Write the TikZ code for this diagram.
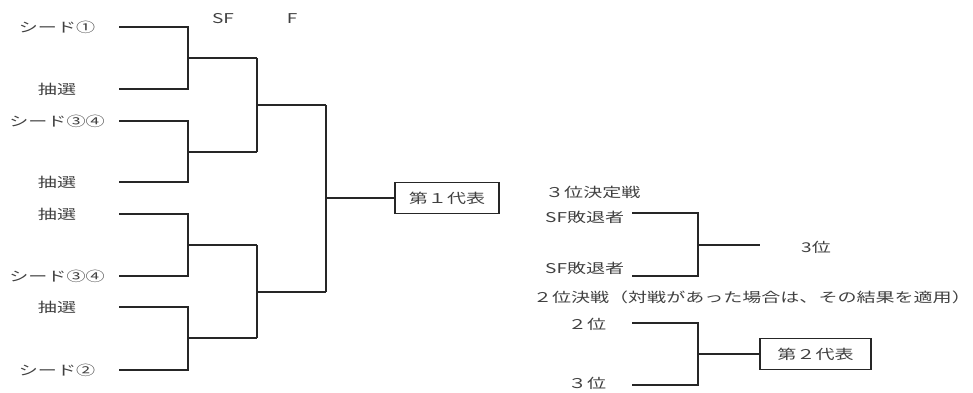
\documentclass[tikz,border=0pt]{standalone}
\usepackage{fontspec}
\newfontfamily\jpfont[FakeStretch=1.41]{Noto Sans CJK JP}
\usetikzlibrary{positioning}
\tikzset{
  entry/.style={
    font=\jpfont\fontsize{13.5}{16}\selectfont,
    text=black!75,
    inner sep=0pt
  },
  bracket/.style={
    line width=1.3pt,
    black!85
  },
  repbox/.style={
    entry,
    draw=black!85,
    line width=1.3pt,
    minimum height=31pt
  }
}

\begin{document}
\begin{tikzpicture}[x=1pt,y=-1pt]
    \useasboundingbox (0,0) rectangle (973,392);
    % round labels
    \node[entry] (sf) at (223,19) {SF};
    \node[entry] (fin) at (292,19) {F};
    % main bracket entries
    \node[entry] (t1) at (57,27) {シード①};
    \node[entry] (t2) at (57,89) {抽選};
    \node[entry] (t3) at (57,121) {シード③④};
    \node[entry] (t4) at (57,182) {抽選};
    \node[entry] (t5) at (57,214) {抽選};
    \node[entry] (t6) at (57,276) {シード③④};
    \node[entry] (t7) at (57,307) {抽選};
    \node[entry] (t8) at (57,370) {シード②};
    \coordinate (a1) at (119,27);
    \coordinate (a2) at (119,89);
    \coordinate (a3) at (119,121);
    \coordinate (a4) at (119,182);
    \coordinate (a5) at (119,214);
    \coordinate (a6) at (119,276);
    \coordinate (a7) at (119,307);
    \coordinate (a8) at (119,370);
    \coordinate (r1) at (188,58);
    \coordinate (r2) at (188,152);
    \coordinate (r3) at (188,245);
    \coordinate (r4) at (188,338);
    \coordinate (q1) at (257,58);
    \coordinate (q2) at (257,152);
    \coordinate (q3) at (257,245);
    \coordinate (q4) at (257,338);
    \coordinate (s1) at (257,105);
    \coordinate (s2) at (257,292);
    \coordinate (f1) at (326,105);
    \coordinate (f2) at (326,292);
    \coordinate (c) at (326,198);
    \node[repbox,minimum width=104pt] (rep1) at (447,198) {第１代表};
    \draw[bracket] (a1) -| (r1) |- (a2);
    \draw[bracket] (a3) -| (r2) |- (a4);
    \draw[bracket] (a5) -| (r3) |- (a6);
    \draw[bracket] (a7) -| (r4) |- (a8);
    \draw[bracket] (r1) -- (q1) (r2) -- (q2) (r3) -- (q3) (r4) -- (q4);
    \draw[bracket] (q1) -| (s1) |- (q2);
    \draw[bracket] (q3) -| (s2) |- (q4);
    \draw[bracket] (s1) -- (f1) (s2) -- (f2);
    \draw[bracket] (f1) -| (c) |- (f2);
    \draw[bracket] (c) -- (rep1.west);
    % third place
    \node[entry,anchor=west] (third) at (545,192) {３位決定戦};
    \node[entry,anchor=west] (lose1) at (545,217) {SF敗退者};
    \node[entry,anchor=west] (lose2) at (545,268) {SF敗退者};
    \coordinate (b1) at (632,213);
    \coordinate (b2) at (632,276);
    \coordinate (m1) at (698,245);
    \coordinate (e1) at (760,245);
    \node[entry] (res3) at (816,247) {3位};
    \draw[bracket] (b1) -| (m1) |- (b2);
    \draw[bracket] (m1) -- (e1);
    % second place
    \node[entry,anchor=east] (second) at (971,297) {２位決戦（対戦があった場合は、その結果を適用）};
    \node[entry] (p2) at (587,324) {２位};
    \node[entry] (p3) at (587,383) {３位};
    \coordinate (d1) at (632,323);
    \coordinate (d2) at (632,385);
    \coordinate (m2) at (698,354);
    \node[repbox,minimum width=111pt] (rep2) at (815.5,354) {第２代表};
    \draw[bracket] (d1) -| (m2) |- (d2);
    \draw[bracket] (m2) -- (rep2.west);
\end{tikzpicture}
\end{document}
